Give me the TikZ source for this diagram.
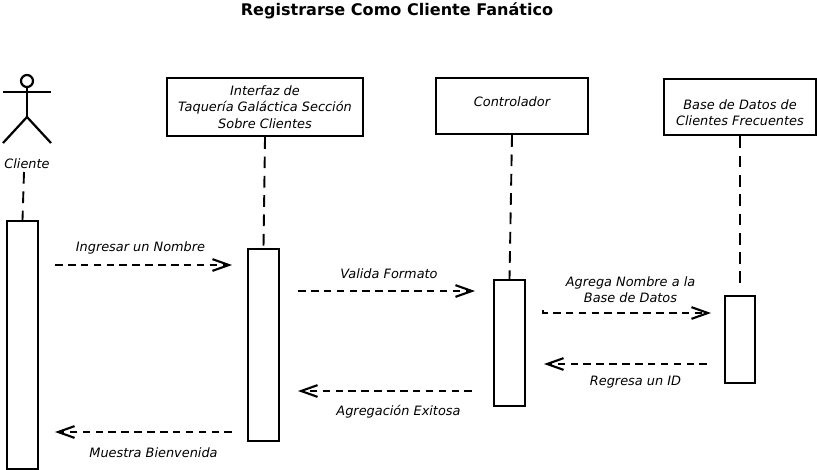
\documentclass[tikz,border=0pt]{standalone}
\usepackage{fontspec}
\setmainfont{DejaVu Sans}
\usetikzlibrary{arrows.meta}
\newcommand\TikzScaling{0.03}
\tikzset{
  classbox/.style={
    shape = rectangle,
    draw,
    line width=2pt,
    inner sep = 0pt,
    align = center,
    font = \fontsize{11}{14}\selectfont\itshape
  },
  actbox/.style={
    shape = rectangle,
    draw,
    line width=1.7pt,
    inner sep = 0pt,
    minimum width = 0.92cm
  },
  msg/.style={
    font = \fontsize{11}{14}\selectfont\itshape,
    align = center,
    inner sep = 0pt
  },
  lifeline/.style={
    line width=1.6pt,
    dash pattern=on 10pt off 6.5pt
  },
  call/.style={
    line width=1.6pt,
    dash pattern=on 6.5pt off 4.5pt,
    -{Straight Barb[length=14pt,width=10pt,line width=1.8pt]}
  },
  actorline/.style={
    line width=1.9pt
  }
}
\begin{document}
\begin{tikzpicture}[x=\TikzScaling cm,y=-\TikzScaling cm]
\useasboundingbox (0,0) rectangle (817,469);

       \node[font=\fontsize{13.7}{16}\selectfont\bfseries] (title) at (397,11) {Registrarse Como Cliente Fanático};

       % actor
       \node[draw,circle,line width=1.9pt,inner sep=0pt,minimum size=0.36cm] (head) at (27,81) {};
       \coordinate (hip) at (27,117);
       \coordinate (armL) at (3,92);
       \coordinate (armR) at (51,92);
       \coordinate (footL) at (3,143);
       \coordinate (footR) at (51,143);
       \draw[actorline] (armL) -- (armR);
       \draw[actorline] (head) -- (hip);
       \draw[actorline] (footL) -- (hip) -- (footR);
       \node[msg] (cliente) at (27,164) {Cliente};

       % top boxes
       \node[classbox, minimum width=5.88cm, minimum height=1.74cm] (interfaz) at (265,107) {Interfaz de\\Taquería Galáctica Sección\\Sobre Clientes};
       \node[classbox, minimum width=4.56cm, minimum height=1.68cm] (controlador) at (512,106) {\rule[-7pt]{0pt}{0pt}Controlador};
       \node[classbox, minimum width=4.56cm, minimum height=1.68cm] (basedatos) at (740,107) {\rule{0pt}{18pt}Base de Datos de\\Clientes Frecuentes};

       % activations
       \node[actbox, minimum height=7.44cm] (actA) at (22.5,345) {};
       \node[actbox, minimum height=5.76cm] (actB) at (263.5,345) {};
       \node[actbox, minimum height=3.78cm] (actC) at (509.5,343) {};
       \node[actbox, minimum height=2.61cm] (actD) at (740,339.5) {};

       % lifelines
       \coordinate (lifeA) at (24,172);
       \coordinate (lifeD) at (740,288);
       \draw[lifeline] (lifeA) -- (actA.north);
       \draw[lifeline] (interfaz.south) -- (actB.north);
       \draw[lifeline] (controlador.south) -- (actC.north);
       \draw[lifeline] (basedatos.south) -- (lifeD);

       % messages
       \coordinate (a1) at (55,265);
       \coordinate (b1) at (232,265);
       \coordinate (a2) at (298,291);
       \coordinate (b2) at (475,291);
       \coordinate (a3top) at (543,310);
       \coordinate (a3) at (543,313);
       \coordinate (b3) at (711,313);
       \coordinate (a4) at (707,364);
       \coordinate (b4) at (544,364);
       \coordinate (a5) at (472,391);
       \coordinate (b5) at (298,391);
       \coordinate (a6) at (232,432);
       \coordinate (b6) at (55,432);
       \draw[call] (a1) -- (b1);
       \draw[call] (a2) -- (b2);
       \draw[call] (a3top) -- (a3) -- (b3);
       \draw[call] (a4) -- (b4);
       \draw[call] (a5) -- (b5);
       \draw[call] (a6) -- (b6);

       \node[msg] (lab1) at (140.5,248) {Ingresar un Nombre};
       \node[msg] (lab2) at (389,274) {Valida Formato};
       \node[msg] (lab3) at (630.5,289.5) {Agrega Nombre a la\\Base de Datos};
       \node[msg] (lab4) at (635.5,382) {Regresa un ID};
       \node[msg] (lab5) at (398.5,412) {Agregación Exitosa};
       \node[msg] (lab6) at (153.5,453) {Muestra Bienvenida};
\end{tikzpicture}
\end{document}
